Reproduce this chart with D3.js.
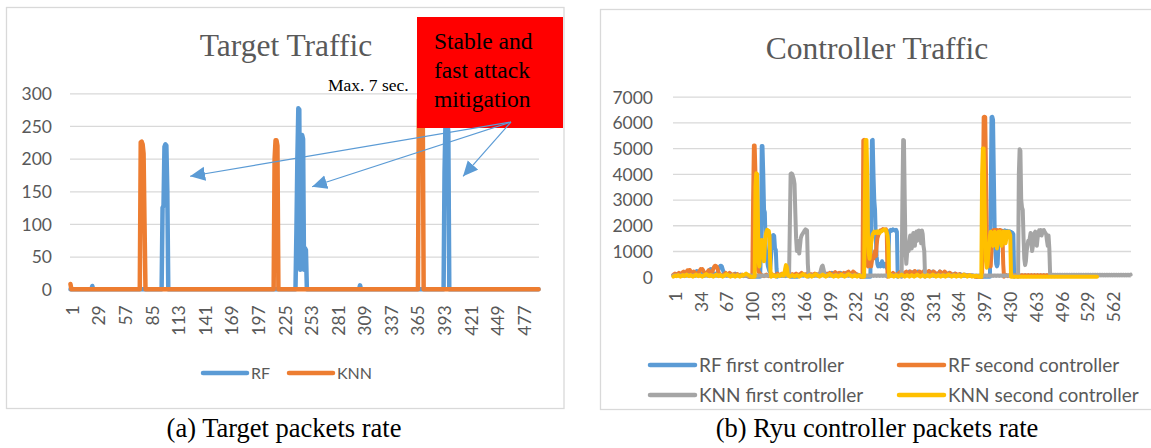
<!DOCTYPE html>
<html>
<head>
<meta charset="utf-8">
<script src="https://cdn.jsdelivr.net/npm/d3@7"></script>
<style>
  html, body { margin: 0; padding: 0; background: #ffffff; }
  svg { display: block; }
</style>
</head>
<body>
<script>
// ---------------- DATA ----------------
// Chart (a): Target Traffic
const xTickLabelsA = [1,29,57,85,113,141,169,197,225,253,281,309,337,365,393,421,449,477];
const yTicksA = [0,50,100,150,200,250,300];
const seriesNamesA = ["RF", "KNN"];
const rfTarget = [
0,0,0,0,0,0,0,0,0,0,0,0,0,0,0,0,0,0,0,0,
0,0,0,5,0,0,0,0,0,0,0,0,0,0,0,0,0,0,0,0,
0,0,0,0,0,0,0,0,0,0,0,0,0,0,0,0,0,0,0,0,
0,0,0,0,0,0,0,0,0,0,0,0,0,0,0,0,0,0,0,0,
0,0,0,0,0,0,0,0,0,0,0,0,0,0,0,0,0,125,128,218,
222,220,150,0,0,0,0,0,0,0,0,0,0,0,0,0,0,0,0,0,
0,0,0,0,0,0,0,0,0,0,0,0,0,0,0,0,0,0,0,0,
0,0,0,0,0,0,0,0,0,0,0,0,0,0,0,0,0,0,0,0,
0,0,0,0,0,0,0,0,0,0,0,0,0,0,0,0,0,0,0,0,
0,0,0,0,0,0,0,0,0,0,0,0,0,0,0,0,0,0,0,0,
0,0,0,0,0,0,0,0,0,0,0,0,0,0,0,0,0,0,0,0,
0,0,0,0,0,0,0,0,0,0,0,0,0,0,0,0,0,0,90,200,
277,275,30,200,236,230,30,63,60,0,0,0,0,0,0,0,0,0,0,0,
0,0,0,0,0,0,0,0,0,0,0,0,0,0,0,0,0,0,0,0,
0,0,0,0,0,0,0,0,0,0,0,0,0,0,0,0,0,0,0,0,
0,0,0,0,0,6,0,0,0,0,0,0,0,0,0,0,0,0,0,0,
0,0,0,0,0,0,0,0,0,0,0,0,0,0,0,0,0,0,0,0,
0,0,0,0,0,0,0,0,0,0,0,0,0,0,0,0,0,0,0,0,
0,0,0,0,0,0,0,0,0,0,0,0,0,0,0,0,0,0,0,0,
0,0,0,0,0,0,0,0,0,0,0,0,0,0,180,255,262,258,240,0,
0,0,0,0,0,0,0,0,0,0,0,0,0,0,0,0,0,0,0,0,
0,0,0,0,0,0,0,0,0,0,0,0,0,0,0,0,0,0,0,0,
0,0,0,0,0,0,0,0,0,0,0,0,0,0,0,0,0,0,0,0,
0,0,0,0,0,0,0,0,0,0,0,0,0,0,0,0,0,0,0,0,
0,0,0,0,0,0,0,0,0,0,0,0,0,0
];
const knnTarget = [
8,0,0,0,0,0,0,0,0,0,0,0,0,0,0,0,0,0,0,0,
0,0,0,0,0,0,0,0,0,0,0,0,0,0,0,0,0,0,0,0,
0,0,0,0,0,0,0,0,0,0,0,0,0,0,0,0,0,0,0,0,
0,0,0,0,0,0,0,0,0,0,0,0,0,0,225,226,222,208,100,0,
0,0,0,0,0,0,0,0,0,0,0,0,0,0,0,0,0,0,0,0,
0,0,0,0,0,0,0,0,0,0,0,0,0,0,0,0,0,0,0,0,
0,0,0,0,0,0,0,0,0,0,0,0,0,0,0,0,0,0,0,0,
0,0,0,0,0,0,0,0,0,0,0,0,0,0,0,0,0,0,0,0,
0,0,0,0,0,0,0,0,0,0,0,0,0,0,0,0,0,0,0,0,
0,0,0,0,0,0,0,0,0,0,0,0,0,0,0,0,0,0,0,0,
0,0,0,0,0,0,0,0,0,0,0,0,0,0,0,200,228,228,220,0,
0,0,0,0,0,0,0,0,0,0,0,0,0,0,0,0,0,0,0,0,
0,0,0,0,0,0,0,0,0,0,0,0,0,0,0,0,0,0,0,0,
0,0,0,0,0,0,0,0,0,0,0,0,0,0,0,0,0,0,0,0,
0,0,0,0,0,0,0,0,0,0,0,0,0,0,0,0,0,0,0,0,
0,0,0,0,0,0,0,0,0,0,0,0,0,0,0,0,0,0,0,0,
0,0,0,0,0,0,0,0,0,0,0,0,0,0,0,0,0,0,0,0,
0,0,0,0,0,0,0,0,0,0,0,0,0,0,0,0,0,0,0,0,
0,0,0,0,0,0,0,290,293,293,292,290,0,0,0,0,0,0,0,0,
0,0,0,0,0,0,0,0,0,0,0,0,0,0,0,0,0,0,0,0,
0,0,0,0,0,0,0,0,0,0,0,0,0,0,0,0,0,0,0,0,
0,0,0,0,0,0,0,0,0,0,0,0,0,0,0,0,0,0,0,0,
0,0,0,0,0,0,0,0,0,0,0,0,0,0,0,0,0,0,0,0,
0,0,0,0,0,0,0,0,0,0,0,0,0,0,0,0,0,0,0,0,
0,0,0,0,0,0,0,0,0,0,0,0,0,0
];

// Chart (b): Controller Traffic
const xTickLabelsB = [1,34,67,100,133,166,199,232,265,298,331,364,397,430,463,496,529,562];
const yTicksB = [0,1000,2000,3000,4000,5000,6000,7000];
const seriesNamesB = ["RF first controller", "RF second controller", "KNN first controller", "KNN second controller"];
const categoryCountB = 586;
const rfFirst = [
60,80,70,90,100,80,60,90,120,100,80,70,100,150,120,90,80,100,120,90,
100,150,120,100,90,80,120,180,150,200,220,180,120,100,80,90,100,120,100,80,
90,100,120,150,180,200,250,280,300,260,180,120,100,90,100,120,150,200,300,380,
420,430,400,300,200,120,100,80,60,50,60,80,100,90,80,60,50,80,100,120,
100,80,60,50,40,60,80,60,40,30,20,30,40,30,20,10,0,0,0,0,
0,0,0,0,0,0,0,0,0,0,0,0,1000,5080,5080,4000,2600,2500,1200,800,
600,400,300,200,300,800,1200,1600,1620,1580,1100,1050,300,0,20,40,60,40,30,50,
60,40,30,20,40,60,80,60,40,20,0,0,0,0,0,0,0,0,0,0,
20,30,40,50,60,50,40,60,80,60,50,40,30,50,70,60,50,40,60,80,
60,50,80,100,80,60,50,40,60,80,100,120,100,80,60,80,100,120,100,80,
60,80,100,150,120,100,80,100,150,120,100,80,100,120,150,100,80,60,80,100,
120,150,100,80,100,120,100,80,60,80,100,150,120,100,80,60,80,60,40,20,
0,0,0,0,0,0,0,0,0,0,0,0,0,2000,5300,5320,4000,3000,2600,1500,
800,500,400,500,450,400,500,600,500,400,450,500,400,350,300,400,1700,1800,1820,1780,
1800,1840,1820,1800,1780,1820,1750,0,20,40,60,80,60,40,50,80,100,120,100,80,
100,150,200,180,150,100,120,180,200,150,120,100,150,200,180,120,100,80,100,150,
200,180,150,100,80,120,180,200,150,120,100,150,200,180,120,100,80,100,120,100,
150,200,180,120,100,80,100,120,100,80,60,80,100,150,120,100,80,60,80,100,
120,100,80,60,50,60,80,100,80,60,50,40,60,80,60,40,30,50,60,40,
30,40,50,40,30,20,10,0,0,0,0,0,0,0,0,0,0,0,0,0,
0,0,0,0,0,0,3000,6200,6220,6100,4000,2000,1000,500,400,500,1500,1750,1800,1780,
1760,1780,1750,1770,1800,1760,1740,1780,1750,1760,1770,1750,1740,1720,1700,1650,0,20,40,60,
50,40,30,40,50,40,30,40,50,40,30,40,50,40,30,40,50,40,30,40,
50,40,30,40,50,40,30,40,50,40,30,40,50,40,30,40,50,40,30,40,
50,40,30,40,50,40,30,40,50,40,30,40,50,40,30,40,50,40,30,40
];
const rfSecond = [
80,100,120,100,80,100,120,150,120,100,120,150,180,200,150,120,150,200,250,220,
250,260,200,150,120,150,200,180,150,120,100,120,150,200,250,300,280,300,250,180,
150,120,100,150,200,250,200,150,120,150,200,300,380,420,430,400,350,250,150,100,
80,60,50,60,80,100,120,150,120,100,80,100,150,120,100,80,60,80,100,80,
60,80,100,80,60,50,40,60,80,60,40,30,50,40,30,20,10,0,0,0,
0,0,3000,5100,5100,4000,1500,500,300,200,150,100,80,60,40,30,20,40,60,80,
60,40,20,30,50,80,100,80,60,40,50,80,100,120,100,80,60,80,100,120,
100,80,60,80,100,120,100,80,60,40,60,80,100,80,60,80,100,120,100,80,
60,80,100,120,150,120,100,80,60,80,100,120,100,80,60,80,100,80,60,80,
100,120,100,80,60,80,100,120,150,120,100,80,60,80,100,120,100,80,100,120,
150,120,100,80,100,120,150,180,150,120,100,120,150,120,100,80,100,120,150,120,
100,120,150,180,200,150,120,100,120,150,200,180,150,120,100,80,60,40,20,0,
0,0,0,5300,5320,5300,3000,1000,600,400,500,700,500,400,600,800,700,900,1000,800,
1200,1500,1600,1700,1750,1800,1780,1820,1850,1840,1820,1830,1840,1700,0,20,40,60,80,100,
120,150,120,100,80,60,80,100,120,150,180,200,150,120,100,120,150,180,200,150,
120,100,150,200,180,150,120,150,200,220,180,150,120,100,150,200,180,150,120,150,
200,180,150,120,100,150,200,220,200,150,120,100,150,200,180,150,120,100,80,100,
150,200,180,150,120,100,150,200,180,150,120,100,80,100,150,120,100,80,60,80,
100,120,100,80,60,80,100,80,60,50,60,80,60,50,40,50,60,50,40,30,
40,50,40,30,20,10,0,0,0,0,0,0,0,0,0,0,3000,6200,6220,6200,
4000,1500,600,500,450,600,400,1000,1700,1800,1810,1820,1800,1810,1820,1800,1790,1810,1820,1800,
1780,1700,500,0,20,40,60,40,20,40,60,40,20,40,60,40,20,40,60,40,
20,40,60,40,20,40,60,40,20,40,60,40,20,40,60,40,20,40,60,40,
20,40,60,40,20,40,60,40,20,40,60,40,20,40,60,40,20,40,60,40,
20,40,60,40,20,40,60,40,20,40,60,40,20,40,60,40,20,40,60,40
];
const knnFirst = [
40,30,50,40,30,40,50,40,30,40,50,40,30,40,50,40,30,40,50,40,
30,40,50,40,30,40,50,40,30,40,50,40,30,40,50,40,30,40,50,40,
30,40,50,40,30,40,50,40,30,40,50,40,30,40,50,40,30,40,50,40,
30,40,50,40,30,40,50,40,30,40,50,40,30,40,50,40,30,40,50,40,
30,40,50,40,30,40,50,40,30,40,50,40,30,40,50,40,30,40,50,40,
30,40,50,40,30,40,50,40,30,40,50,40,30,40,50,40,30,40,50,40,
30,40,50,40,30,40,50,40,30,40,50,40,30,40,50,40,30,40,50,40,
40,30,40,50,40,30,40,50,40,2000,4000,4020,4000,3900,3800,3600,2500,1500,1000,1400,
1300,900,1200,1500,1600,1650,1700,1750,1800,1840,1820,1800,500,0,20,40,30,40,50,40,
30,40,50,40,30,40,50,60,150,300,400,430,300,150,60,40,30,40,50,40,
30,40,50,40,30,40,50,40,30,40,50,40,30,40,50,40,30,40,50,40,
30,40,50,40,30,40,50,40,30,40,50,40,30,40,50,40,30,40,50,40,
30,40,50,40,30,40,50,40,30,40,50,40,30,40,50,40,30,40,50,40,
30,40,50,40,30,40,50,40,30,40,50,40,30,40,50,40,30,40,50,40,
30,40,50,40,30,40,50,40,30,40,50,40,0,3000,5320,5300,3000,1000,500,900,
1200,1000,1400,1600,1300,1100,1500,1700,1650,1200,1700,1750,1400,1600,1800,1700,1750,1300,1800,1650,
1200,1000,0,20,40,30,40,50,40,30,40,50,40,30,40,50,40,30,40,50,
40,30,40,50,40,30,40,50,40,30,40,50,40,30,40,50,40,30,40,50,
40,30,40,50,40,30,40,50,40,30,40,50,40,30,40,50,40,30,40,50,
40,30,40,50,40,30,40,50,40,30,40,50,40,30,40,50,40,30,40,50,
40,30,40,50,40,30,40,50,40,30,40,50,40,30,40,50,40,30,40,50,
40,30,40,50,40,30,40,50,40,30,40,50,40,30,40,50,40,30,40,50,
40,0,4000,4960,4900,3000,2700,2600,1500,700,450,600,1000,1200,1400,1300,1500,1700,1400,1000,
1200,1600,1700,1750,1500,1200,1500,1700,1800,1750,1815,1600,1700,1800,1815,1750,1700,1650,1400,1200,
1600,1100,100,80,60,70,80,60,70,80,60,70,80,60,70,80,60,70,80,60,
70,80,60,70,80,60,70,80,60,70,80,60,70,80,60,70,80,60,70,80,
60,70,80,60,70,80,60,70,80,60,70,80,60,70,80,60,70,80,60,70,
80,60,70,80,60,70,80,60,70,80,60,70,80,60,70,80,60,70,80,60,
70,80,60,70,80,60,70,80,60,70,80,60,70,80,60,70,80,60,70,80,
60,70,80,60,70,80
];
const knnSecond = [
0,20,40,30,20,40,60,40,20,0,20,40,60,40,20,40,60,80,60,40,
20,40,60,40,20,0,20,40,60,80,60,40,20,40,60,40,20,0,20,40,
60,80,100,80,60,40,20,40,60,40,20,0,20,40,60,80,60,40,20,40,
60,40,20,0,20,40,60,80,100,80,60,40,20,0,20,40,60,40,20,0,
20,40,60,40,20,0,20,40,60,40,60,80,100,120,100,80,60,40,20,0,
0,0,0,0,0,3500,4020,4000,2500,600,400,900,1300,1430,1400,1000,600,1200,1600,1750,
1820,1800,1780,1600,300,0,20,40,60,40,20,0,20,40,60,40,20,40,60,100,
60,40,100,300,450,400,150,40,20,0,20,40,60,40,20,0,20,40,60,40,
20,0,20,40,60,80,100,80,60,40,20,0,20,40,60,40,20,0,20,40,
60,80,100,80,60,40,20,0,20,40,60,80,60,40,20,0,20,40,60,80,
100,80,60,40,20,0,20,40,60,40,20,0,20,40,60,80,60,40,20,0,
20,40,60,80,100,80,60,40,20,0,20,40,60,40,20,0,20,40,60,40,
20,0,0,0,0,3000,5320,5320,4000,1500,900,700,1000,1300,1500,1650,1700,1750,1700,1720,
1750,1700,1760,1740,1700,1750,1760,1780,1800,1820,1840,1830,1800,1700,1600,1200,0,20,40,60,
40,20,0,20,40,60,40,20,0,20,40,60,80,60,40,20,0,20,40,60,
40,20,0,20,40,60,40,20,0,20,40,60,80,60,40,20,0,20,40,60,
40,20,0,20,40,60,40,20,0,20,40,60,80,60,40,20,0,20,40,60,
40,20,0,20,40,60,40,20,0,20,40,60,80,60,40,20,0,20,40,60,
40,20,0,20,40,60,40,20,0,20,40,60,80,60,40,20,0,20,40,60,
40,20,0,20,40,20,0,20,40,20,0,0,0,0,0,4000,4990,4990,3000,1500,
600,350,500,900,1200,1600,1750,1700,1300,1200,1600,1750,1700,1400,1100,1500,1750,1700,1750,1400,
1200,1600,1750,1700,1750,1300,1500,1750,1700,1750,1700,1600,0,0,0,0,0,0,0,0,
0,0,0,0,0,0,0,0,0,0,0,0,0,0,0,0,0,0,0,0,
0,0,0,0,0,0,0,0,0,0,0,0,0,0,0,0,0,0,0,0,
0,0,0,0,0,0,0,0,0,0,0,0,0,0,0,0,0,0,0,0,
0,0,0,0,0,0,0,0,0,0,0,0,0,0,0,0,0,0,0,0,
0,0,0,0,0,0,0,0,0,0,0,0,0,0,0,0,0,0,0,0,
0,0,0
];

// ---------------- STYLE ----------------
const colorsA = ["#5B9BD5", "#ED7D31"];
const colorsB = ["#5B9BD5", "#ED7D31", "#A5A5A5", "#FFC000"];
const gridColor = "#D9D9D9";
const textGray = "#595959";
const sansFont = "Lato, 'Open Sans', sans-serif";
const serifFont = "'Liberation Serif', 'Times New Roman', serif";

const svg = d3.select("body").append("svg")
  .attr("width", 1151).attr("height", 448)
  .style("background", "#ffffff");

const defs = svg.append("defs");
defs.append("marker")
  .attr("id", "arrowHead")
  .attr("markerUnits", "userSpaceOnUse")
  .attr("markerWidth", 16).attr("markerHeight", 16)
  .attr("viewBox", "0 0 16 16")
  .attr("refX", 15).attr("refY", 7)
  .attr("orient", "auto")
  .append("path").attr("d", "M0,0 L15,7 L0,14 Z").attr("fill", "#5B9BD5");

// panel frames
svg.append("rect").attr("x", 6.5).attr("y", 7.5).attr("width", 557.5).attr("height", 401)
  .attr("fill", "none").attr("stroke", gridColor).attr("stroke-width", 1.3);
svg.append("rect").attr("x", 600.5).attr("y", 9.5).attr("width", 600).attr("height", 400)
  .attr("fill", "none").attr("stroke", gridColor).attr("stroke-width", 1.3);

function drawChart(opts) {
  const g = svg.append("g");
  const n = opts.count;
  const cats = d3.range(1, n + 1);
  const x = d3.scalePoint().domain(cats).range([opts.left, opts.right]).padding(0.5);
  const y = d3.scaleLinear().domain([0, opts.yMax]).range([opts.bottom, opts.top]);

  // gridlines
  const grid = g.append("g").attr("transform", `translate(${opts.left},0)`)
    .call(d3.axisLeft(y).tickValues(opts.yTicks).tickSize(-(opts.right - opts.left)).tickFormat(""));
  grid.select(".domain").remove();
  grid.selectAll("line").attr("stroke", gridColor).attr("stroke-width", 1.3);

  // y labels
  const ya = g.append("g").attr("transform", `translate(${opts.yLabelX},0)`)
    .call(d3.axisLeft(y).tickValues(opts.yTicks).tickSize(0).tickPadding(0).tickFormat(d3.format("d")));
  ya.select(".domain").remove();
  ya.selectAll("text").attr("fill", textGray).style("font-family", sansFont)
    .style("font-size", opts.tickFont + "px").attr("dy", "0.36em");

  // x labels
  const xa = g.append("g").attr("transform", `translate(0,${opts.bottom})`)
    .call(d3.axisBottom(x).tickValues(opts.xTicks).tickSize(0));
  xa.select(".domain").remove();
  xa.selectAll("text")
    .attr("fill", textGray).style("font-family", sansFont).style("font-size", opts.tickFont + "px")
    .attr("transform", "rotate(-90)")
    .attr("x", -opts.xLabelGap).attr("y", 0).attr("dy", "0.45em")
    .style("text-anchor", "end");

  // lines
  opts.series.forEach((s, k) => {
    const line = d3.line()
      .defined(d => d != null)
      .x((d, i) => x(cats[i]))
      .y(d => y(d));
    g.append("path").datum(s)
      .attr("fill", "none").attr("stroke", opts.colors[k])
      .attr("stroke-width", opts.lineWidth)
      .attr("stroke-linejoin", "round").attr("stroke-linecap", "round")
      .attr("d", line);
  });

  // title
  g.append("text").attr("x", opts.titleX).attr("y", opts.titleY)
    .attr("text-anchor", "middle").attr("fill", textGray)
    .style("font-family", serifFont).style("font-size", "31.5px")
    .text(opts.title);

  // legend
  opts.legend.forEach((it, k) => {
    g.append("line").attr("x1", it.x).attr("x2", it.x + it.len).attr("y1", it.y).attr("y2", it.y)
      .attr("stroke", opts.colors[k]).attr("stroke-width", 4.5).attr("stroke-linecap", "round");
    g.append("text").attr("x", it.x + it.len + 4).attr("y", it.y).attr("dy", "0.36em")
      .attr("fill", textGray).style("font-family", sansFont).style("font-size", opts.legendFont + "px")
      .text(opts.names[k]);
  });

  // caption
  svg.append("text").attr("x", opts.captionX).attr("y", 437)
    .attr("text-anchor", "middle").attr("fill", "#000")
    .style("font-family", serifFont).style("font-size", "26.5px")
    .text(opts.caption);
  return { x, y };
}

const A = drawChart({
  series: [rfTarget, knnTarget], count: rfTarget.length, colors: colorsA, names: seriesNamesA,
  left: 70, right: 539, top: 93.3, bottom: 289.3, yMax: 300,
  yTicks: yTicksA, xTicks: xTickLabelsA, yLabelX: 52, xLabelGap: 16, tickFont: 17.5,
  lineWidth: 4.5, title: "Target Traffic", titleX: 286, titleY: 56,
  legend: [{x: 203, y: 373, len: 44}, {x: 289, y: 373, len: 44}], legendFont: 16,
  caption: "(a) Target packets rate", captionX: 284
});

const B = drawChart({
  series: [rfFirst, rfSecond, knnFirst, knnSecond], count: categoryCountB, colors: colorsB, names: seriesNamesB,
  left: 673, right: 1131, top: 96.7, bottom: 276.7, yMax: 7000,
  yTicks: yTicksB, xTicks: xTickLabelsB, yLabelX: 653, xLabelGap: 15, tickFont: 17.5,
  lineWidth: 4, title: "Controller Traffic", titleX: 877, titleY: 59,
  legend: [{x: 650, y: 365, len: 45}, {x: 899, y: 365, len: 45},
           {x: 650, y: 395, len: 45}, {x: 899, y: 395, len: 45}], legendFont: 19,
  caption: "(b) Ryu controller packets rate", captionX: 877
});

// ---------------- ANNOTATIONS (chart a) ----------------
const box = svg.append("g");
box.append("rect").attr("x", 417).attr("y", 17).attr("width", 146).attr("height", 111).attr("fill", "#FF0000");
const boxLines = ["Stable and", "fast attack", "mitigation"];
boxLines.forEach((t, i) => {
  box.append("text").attr("x", 434).attr("y", 49 + i * 29)
    .attr("fill", "#000").style("font-family", serifFont).style("font-size", "23.5px").text(t);
});
svg.append("text").attr("x", 328).attr("y", 91).attr("fill", "#000")
  .style("font-family", serifFont).style("font-size", "17.5px").text("Max. 7 sec.");

// arrows from the box toward the three RF mitigation spikes
const arrowStart = { cat: 465, val: 256 };
const arrowTips = [ { cat: 127, val: 173 }, { cat: 255.5, val: 157 }, { cat: 414.5, val: 173 } ];
const xAtA = c => A.x(1) + (c - 1) * A.x.step();
arrowTips.forEach(t => {
  svg.append("line")
    .attr("x1", xAtA(arrowStart.cat)).attr("y1", A.y(arrowStart.val))
    .attr("x2", xAtA(t.cat)).attr("y2", A.y(t.val))
    .attr("stroke", "#5B9BD5").attr("stroke-width", 1.2)
    .attr("marker-end", "url(#arrowHead)");
});
</script>
</body>
</html>
